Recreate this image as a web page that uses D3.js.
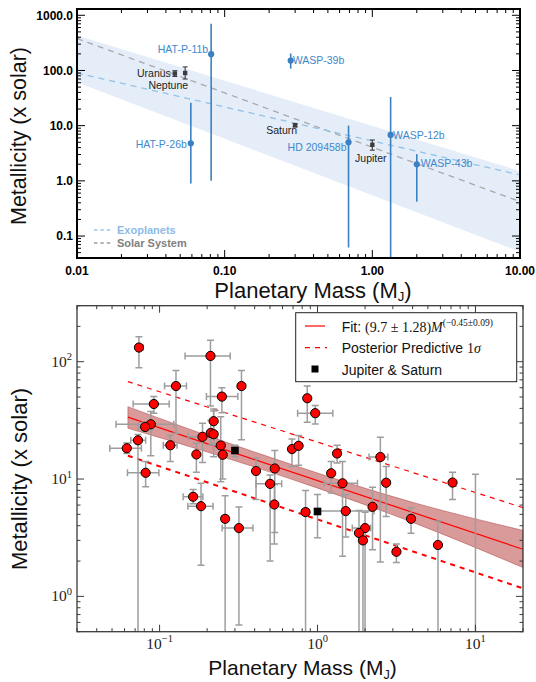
<!DOCTYPE html>
<html>
<head>
<meta charset="utf-8">
<script src="https://cdn.jsdelivr.net/npm/d3@7"></script>
<style>
  body { margin: 0; background: #fff; }
  svg { display: block; }
</style>
</head>
<body>
<svg id="fig" width="536" height="682"></svg>
<script>
// ================= Upper panel: transmission-spectrum metallicities =================
const exoNames  = ["HAT-P-11b", "HAT-P-26b", "WASP-39b", "HD 209458b", "WASP-12b", "WASP-43b"];
const exoMass   = [0.081, 0.059, 0.28, 0.69, 1.33, 2.0];
const exoZ      = [197, 4.8, 151, 5.0, 6.8, 2.0];
const exoZLow   = [1.0, 0.9, 108, 0.062, 0.01, 0.42];
const exoZHigh  = [700, 26, 203, 10, 33, 3.05];

const solarNames = ["Uranus", "Neptune", "Saturn", "Jupiter"];
const solarMass  = [0.046, 0.054, 0.30, 1.0];
const solarZ     = [88, 90, 10.2, 4.5];
const solarZLow  = [78, 70, 9.5, 3.6];
const solarZHigh = [99, 116, 10.9, 5.5];

const trendMass   = [0.01, 10];
const exoTrendZ   = [90, 1.28];
const solarTrendZ = [380, 0.42];
const spreadLow   = [61, 0.052];
const spreadHigh  = [430, 1.5];

const topXTickVals   = [0.01, 0.1, 1, 10];
const topXTickLabels = ["0.01", "0.10", "1.00", "10.00"];
const topYTickVals   = [0.1, 1, 10, 100, 1000];
const topYTickLabels = ["0.1", "1.0", "10.0", "100.0", "1000.0"];
const topLegendLabels = ["Exoplanets", "Solar System"];

// ================= Lower panel: population fit =================
const planetMass     = [0.074, 0.21, 0.127, 0.248, 0.33, 0.092, 0.22, 0.088, 0.081, 0.073,
                        0.062, 0.117, 0.187, 0.211, 0.22, 0.244, 0.251, 0.171, 0.408, 0.536,
                        0.501, 0.533, 0.0816, 0.163, 0.183, 0.26, 0.318, 0.861, 0.967, 0.689,
                        0.759, 1.33, 1.22, 2.5, 2.72, 1.44, 7.16, 0.84, 1.51, 2.23,
                        2.0, 1.83, 1.94, 3.91, 3.16, 5.79, 10.0];
const planetZ        = [132, 112, 62, 50.4, 62, 43.6, 31.1, 29.3, 27.8, 21.4,
                        18.3, 19.4, 22.9, 24.7, 24.1, 19.3, 16.1, 16.2, 11.7, 12.3,
                        9.1, 6.07, 11.3, 7.06, 5.87, 4.58, 3.82, 48.8, 36.4, 18.0,
                        19.2, 16.5, 11.2, 15.4, 9.3, 9.2, 9.33, 5.23, 5.33, 5.8,
                        3.82, 3.47, 3.0, 4.58, 2.40, 2.74, 0.35];
const planetZLow     = [89, 42, 24.5, 36.8, 21.6, 36.4, 20, 15.8, 25.5, 0.1,
                        16.5, 14.1, 13.8, 19.5, 15.5, 9.5, 10, 11.4, 6.7, 3.5,
                        2.0, 2.8, 8.6, 6.15, 1.84, 0.1, 0.57, 30.5, 29.5, 12.8,
                        13.1, 13.7, 7.6, 1.96, 4.8, 2.2, 6.7, 0.1, 3.2, 2.5,
                        0.1, 0.1, 0.1, 3.45, 1.94, 0.1, 0.1];
const planetZHigh    = [163, 152, 84, 60, 84, 50.4, 39.5, 37.6, 30.5, 24,
                        20.3, 23.5, 29.9, 31.5, 38, 34, 19.5, 20.2, 15.1, 17.5,
                        10.8, 9.0, 14.1, 8.15, 9.2, 7.2, 5.77, 62, 42.3, 21.9,
                        23.5, 19.4, 14.1, 22.7, 12.8, 14.1, 11.4, 8.0, 7.4, 8.5,
                        5.2, 5.4, 3.6, 5.7, 2.8, 4.38, 11.0];
const planetMassLow  = [0.0714, 0.145, 0.1075, 0.198, null, 0.068, null, 0.053, 0.0734, 0.0657,
                        0.0484, 0.1055, 0.152, null, null, null, null, null, null, null,
                        0.408, null, 0.0626, 0.141, 0.151, 0.248, 0.249, null, 0.748, null,
                        null, null, null, 2.12, null, 1.10, null, 0.80, 1.0, null,
                        1.66, null, null, null, null, null, null];
const planetMassHigh = [0.0786, 0.28, 0.148, 0.313, null, 0.115, null, 0.123, 0.09, 0.0816,
                        0.0767, 0.129, 0.232, null, null, null, null, null, null, null,
                        0.593, null, 0.099, 0.188, 0.218, 0.272, 0.39, null, 1.25, null,
                        null, null, null, 2.79, null, 1.79, null, 0.88, 2.28, null,
                        2.17, null, null, null, null, null, null];

const giantNames = ["Jupiter", "Saturn"];
const giantMass  = [1.0, 0.30];
const giantZ     = [5.29, 17.5];
const giantZLow  = [3.16, 15.5];
const giantZHigh = [7.4, 19.4];

// power-law fit Z = A * M^k
const fitAmp = 9.7, fitAmpErr = 1.28, fitExp = -0.45, fitExpErr = 0.09;
const fitRange = [0.063, 20];
// credible band of the fit
const bandMass = [0.063, 0.2, 0.76, 3.9, 20];
const bandLow  = [27.1, 17.0, 9.5, 4.33, 1.76];
const bandHigh = [41.4, 23.5, 12.7, 6.39, 3.65];
// posterior predictive 1 sigma envelope
const ppMass  = [0.063, 20];
const ppUpper = [67.6, 5.7];
const ppLower = [15.8, 1.17];

const botXTickVals = [0.1, 1, 10];
const botXTickExp  = ["\u22121", "0", "1"];
const botYTickVals = [1, 10, 100];
const botYTickExp  = ["0", "1", "2"];

// ---------------------------------------------------------------------------------
const svg = d3.select("#fig");
const SANS = "'Liberation Sans', Arial, Helvetica, sans-serif";
const SERIF = "'Liberation Serif', 'Times New Roman', serif";

function logTickList(lo, hi) {
  const out = [];
  const e0 = Math.floor(Math.log10(lo)) - 1, e1 = Math.ceil(Math.log10(hi)) + 1;
  for (let e = e0; e <= e1; e++) {
    for (let k = 1; k <= 9; k++) {
      const v = +(k * Math.pow(10, e)).toPrecision(6);
      if (v >= lo * 0.9999 && v <= hi * 1.0001) out.push({ v, major: k === 1 });
    }
  }
  return out;
}

function drawFrameTicks(g, x, y, box, opt) {
  const xt = logTickList(x.domain()[0], x.domain()[1]);
  const yt = logTickList(y.domain()[0], y.domain()[1]);
  const tg = g.append("g").attr("stroke", opt.color).attr("stroke-width", opt.tickWidth);
  xt.forEach(t => {
    const px = x(t.v), L = t.major ? opt.major : opt.minor;
    tg.append("line").attr("x1", px).attr("x2", px).attr("y1", box.bottom).attr("y2", box.bottom - L);
    tg.append("line").attr("x1", px).attr("x2", px).attr("y1", box.top).attr("y2", box.top + L);
  });
  yt.forEach(t => {
    const py = y(t.v), L = t.major ? opt.major : opt.minor;
    tg.append("line").attr("x1", box.left).attr("x2", box.left + L).attr("y1", py).attr("y2", py);
    tg.append("line").attr("x1", box.right).attr("x2", box.right - L).attr("y1", py).attr("y2", py);
  });
  g.append("rect")
    .attr("x", box.left).attr("y", box.top)
    .attr("width", box.right - box.left).attr("height", box.bottom - box.top)
    .attr("fill", "none").attr("stroke", opt.color).attr("stroke-width", opt.frameWidth);
}

// ================================= upper panel =================================
const tb = { left: 77, right: 520, top: 9, bottom: 258 };
const xT = d3.scaleLog().domain([0.01, 10]).range([tb.left, tb.right]);
const yT = d3.scaleLog().domain([0.04, 1300]).range([tb.bottom, tb.top]);

const gT = svg.append("g");
gT.append("clipPath").attr("id", "clipTop").append("rect")
  .attr("x", tb.left).attr("y", tb.top).attr("width", tb.right - tb.left).attr("height", tb.bottom - tb.top);
const pT = gT.append("g").attr("clip-path", "url(#clipTop)");

const exoBlue = "#3a80c3";
const spread = trendMass.map((m, i) => ({ m, lo: spreadLow[i], hi: spreadHigh[i] }));
pT.append("path")
  .attr("d", d3.area().x(d => xT(d.m)).y0(d => yT(d.lo)).y1(d => yT(d.hi))(spread))
  .attr("fill", "#e4edf8");

const trendLine = d3.line().x(d => xT(d.m)).y(d => yT(d.z));
pT.append("path")
  .attr("d", trendLine(trendMass.map((m, i) => ({ m, z: solarTrendZ[i] }))))
  .attr("fill", "none").attr("stroke", "#a9a9a9").attr("stroke-width", 1.3).attr("stroke-dasharray", "6,5");
pT.append("path")
  .attr("d", trendLine(trendMass.map((m, i) => ({ m, z: exoTrendZ[i] }))))
  .attr("fill", "none").attr("stroke", "#93c2e8").attr("stroke-width", 1.3).attr("stroke-dasharray", "6,5");

// solar system planets
const solarCol = "#3c3c3c";
solarNames.forEach((n, i) => {
  const px = xT(solarMass[i]);
  pT.append("line").attr("x1", px).attr("x2", px)
    .attr("y1", yT(solarZLow[i])).attr("y2", yT(solarZHigh[i]))
    .attr("stroke", solarCol).attr("stroke-width", 1.1);
  [solarZLow[i], solarZHigh[i]].forEach(z => {
    pT.append("line").attr("x1", px - 2.5).attr("x2", px + 2.5).attr("y1", yT(z)).attr("y2", yT(z))
      .attr("stroke", solarCol).attr("stroke-width", 1.1);
  });
  pT.append("rect").attr("x", px - 2.2).attr("y", yT(solarZ[i]) - 2.2).attr("width", 4.4).attr("height", 4.4)
    .attr("fill", solarCol);
});

// exoplanets
exoNames.forEach((n, i) => {
  const px = xT(exoMass[i]);
  pT.append("line").attr("x1", px).attr("x2", px)
    .attr("y1", yT(exoZLow[i])).attr("y2", yT(exoZHigh[i]))
    .attr("stroke", exoBlue).attr("stroke-width", 1.6);
  pT.append("circle").attr("cx", px).attr("cy", yT(exoZ[i])).attr("r", 3.1).attr("fill", exoBlue);
});

// point labels
const exoLabelPos = {
  "HAT-P-11b":  { anchor: "end",   dx: -3,  dy: -5 },
  "HAT-P-26b":  { anchor: "end",   dx: -4,  dy: 1 },
  "WASP-39b":   { anchor: "start", dx: 2,   dy: 0 },
  "HD 209458b": { anchor: "end",   dx: -2,  dy: 4.5 },
  "WASP-12b":   { anchor: "start", dx: 2.5, dy: 0 },
  "WASP-43b":   { anchor: "start", dx: 4,   dy: -1 }
};
const solarLabelPos = {
  "Uranus":  { anchor: "end",    dx: -4,   dy: 0 },
  "Neptune": { anchor: "end",    dx: 3,    dy: 12 },
  "Saturn":  { anchor: "end",    dx: 2,    dy: 5.5 },
  "Jupiter": { anchor: "middle", dx: -1.5, dy: 13 }
};
const labelFont = 10.5;
exoNames.forEach((n, i) => {
  const p = exoLabelPos[n];
  gT.append("text").text(n)
    .attr("x", xT(exoMass[i]) + p.dx).attr("y", yT(exoZ[i]) + p.dy + labelFont * 0.36)
    .attr("text-anchor", p.anchor).attr("font-family", SANS).attr("font-size", labelFont)
    .attr("fill", "#3f88cc");
});
solarNames.forEach((n, i) => {
  const p = solarLabelPos[n];
  gT.append("text").text(n)
    .attr("x", xT(solarMass[i]) + p.dx).attr("y", yT(solarZ[i]) + p.dy + labelFont * 0.36)
    .attr("text-anchor", p.anchor).attr("font-family", SANS).attr("font-size", labelFont)
    .attr("fill", "#1e1e1e");
});

// legend (lower left)
const legColors = [["#9cc6ea", "#8dbbe6"], ["#9a9a9a", "#808080"]];
topLegendLabels.forEach((lab, i) => {
  const y = 230 + i * 13;
  gT.append("line").attr("x1", 94).attr("x2", 111).attr("y1", y).attr("y2", y)
    .attr("stroke", legColors[i][0]).attr("stroke-width", 1.5).attr("stroke-dasharray", "3.4,3");
  gT.append("text").text(lab).attr("x", 117).attr("y", y + 4)
    .attr("font-family", SANS).attr("font-size", 11).attr("font-weight", "bold")
    .attr("fill", legColors[i][1]);
});

drawFrameTicks(gT, xT, yT, tb, { color: "#000", tickWidth: 1, major: 8, minor: 4, frameWidth: 2 });

// tick labels
topXTickVals.forEach((v, i) => {
  gT.append("text").text(topXTickLabels[i]).attr("x", xT(v)).attr("y", 274.5)
    .attr("text-anchor", "middle").attr("font-family", SANS).attr("font-size", 12)
    .attr("font-weight", "bold").attr("fill", "#000");
});
topYTickVals.forEach((v, i) => {
  gT.append("text").text(topYTickLabels[i]).attr("x", 73).attr("y", yT(v) + 4.3)
    .attr("text-anchor", "end").attr("font-family", SANS).attr("font-size", 12)
    .attr("font-weight", "bold").attr("fill", "#000");
});

// axis titles
function massTitle(g, cx, baseline, size) {
  const t = g.append("text").attr("x", cx).attr("y", baseline).attr("text-anchor", "middle")
    .attr("font-family", SANS).attr("font-size", size).attr("fill", "#111");
  t.append("tspan").text("Planetary Mass (M");
  t.append("tspan").text("J").attr("font-size", size * 0.6).attr("dy", size * 0.18);
  t.append("tspan").text(")").attr("dy", -size * 0.18);
}
function metTitle(g, x, cy, size) {
  g.append("text").text("Metallicity (x solar)")
    .attr("transform", `translate(${x},${cy}) rotate(-90)`)
    .attr("text-anchor", "middle").attr("font-family", SANS).attr("font-size", size).attr("fill", "#111");
}
massTitle(gT, 313, 297.5, 22);
metTitle(gT, 26, 136, 21.5);

// ================================= lower panel =================================
const bb = { left: 77, right: 523, top: 305.7, bottom: 631.7 };
const xB = d3.scaleLog().domain([0.03, 20]).range([bb.left, bb.right]);
const yB = d3.scaleLog().domain([0.5, 300]).range([bb.bottom, bb.top]);

const gB = svg.append("g");
gB.append("clipPath").attr("id", "clipBot").append("rect")
  .attr("x", bb.left).attr("y", bb.top).attr("width", bb.right - bb.left).attr("height", bb.bottom - bb.top);
const pB = gB.append("g").attr("clip-path", "url(#clipBot)");

// credible band
const band = bandMass.map((m, i) => ({ m, lo: bandLow[i], hi: bandHigh[i] }));
pB.append("path")
  .attr("d", d3.area().x(d => xB(d.m)).y0(d => yB(d.lo)).y1(d => yB(d.hi)).curve(d3.curveMonotoneX)(band))
  .attr("fill", "rgba(170,30,30,0.45)").attr("stroke", "rgba(150,20,20,0.45)").attr("stroke-width", 0.8);

// best-fit line
const fitPts = fitRange.map(m => ({ m, z: fitAmp * Math.pow(m, fitExp) }));
pB.append("path")
  .attr("d", d3.line().x(d => xB(d.m)).y(d => yB(d.z))(fitPts))
  .attr("fill", "none").attr("stroke", "#ff0000").attr("stroke-width", 1.2);

// posterior predictive envelope
const ppLine = d3.line().x(d => xB(d.m)).y(d => yB(d.z));
pB.append("path")
  .attr("d", ppLine(ppMass.map((m, i) => ({ m, z: ppUpper[i] }))))
  .attr("fill", "none").attr("stroke", "#ff0000").attr("stroke-width", 1.2).attr("stroke-dasharray", "5,5");
pB.append("path")
  .attr("d", ppLine(ppMass.map((m, i) => ({ m, z: ppLower[i] }))))
  .attr("fill", "none").attr("stroke", "#ff0000").attr("stroke-width", 2).attr("stroke-dasharray", "5,5");

// error bars
const errCol = "#9d9d9d", capHalf = 3.5;
function errorBars(g, mass, z, zlo, zhi, mlo, mhi, col) {
  mass.forEach((m, i) => {
    const px = xB(m), py = yB(z[i]);
    g.append("line").attr("x1", px).attr("x2", px).attr("y1", yB(zlo[i])).attr("y2", yB(zhi[i]))
      .attr("stroke", col).attr("stroke-width", 1.5);
    [zlo[i], zhi[i]].forEach(v => {
      g.append("line").attr("x1", px - capHalf).attr("x2", px + capHalf).attr("y1", yB(v)).attr("y2", yB(v))
        .attr("stroke", col).attr("stroke-width", 1.5);
    });
    if (mlo && mlo[i] != null) {
      g.append("line").attr("x1", xB(mlo[i])).attr("x2", xB(mhi[i])).attr("y1", py).attr("y2", py)
        .attr("stroke", col).attr("stroke-width", 1.5);
      [mlo[i], mhi[i]].forEach(v => {
        g.append("line").attr("x1", xB(v)).attr("x2", xB(v)).attr("y1", py - capHalf).attr("y2", py + capHalf)
          .attr("stroke", col).attr("stroke-width", 1.5);
      });
    }
  });
}
errorBars(pB, planetMass, planetZ, planetZLow, planetZHigh, planetMassLow, planetMassHigh, errCol);
errorBars(pB, giantMass, giantZ, giantZLow, giantZHigh, null, null, errCol);

pB.selectAll("circle.planet").data(planetMass).enter().append("circle")
  .attr("class", "planet")
  .attr("cx", d => xB(d)).attr("cy", (d, i) => yB(planetZ[i])).attr("r", 4.6)
  .attr("fill", "#ff0000").attr("stroke", "#000").attr("stroke-width", 1);

pB.selectAll("rect.giant").data(giantMass).enter().append("rect")
  .attr("class", "giant")
  .attr("x", d => xB(d) - 3.8).attr("y", (d, i) => yB(giantZ[i]) - 3.8)
  .attr("width", 7.6).attr("height", 7.6).attr("fill", "#000");

drawFrameTicks(gB, xB, yB, bb, { color: "#3a3a3a", tickWidth: 1, major: 7, minor: 3.5, frameWidth: 1.3 });

// tick labels (10^n)
function powLabel(g, x, y, exp, anchor) {
  const t = g.append("text").attr("x", x).attr("y", y).attr("text-anchor", anchor)
    .attr("font-family", SERIF).attr("font-size", 15.5).attr("fill", "#222");
  t.append("tspan").text("10");
  t.append("tspan").text(exp).attr("font-size", 10.5).attr("dy", -6.5);
}
botXTickVals.forEach((v, i) => powLabel(gB, xB(v), 648.5, botXTickExp[i], "middle"));
botYTickVals.forEach((v, i) => powLabel(gB, 72, yB(v) + 5, botYTickExp[i], "end"));

massTitle(gB, 302.5, 675, 21);
metTitle(gB, 27, 479, 22);

// legend box
const lg = gB.append("g");
lg.append("rect").attr("x", 295.7).attr("y", 312.7).attr("width", 221).attr("height", 69)
  .attr("fill", "#fff").attr("stroke", "#222").attr("stroke-width", 1);
lg.append("line").attr("x1", 305).attr("x2", 325).attr("y1", 326).attr("y2", 326)
  .attr("stroke", "#ff0000").attr("stroke-width", 1.2);
lg.append("line").attr("x1", 305).attr("x2", 327).attr("y1", 347.7).attr("y2", 347.7)
  .attr("stroke", "#ff0000").attr("stroke-width", 1.2).attr("stroke-dasharray", "5,5");
lg.append("rect").attr("x", 311.5).attr("y", 365.5).attr("width", 7).attr("height", 7).attr("fill", "#000");

const fitText = lg.append("text").attr("x", 341.7).attr("y", 331.5).attr("font-size", 14).attr("fill", "#111");
fitText.append("tspan").text("Fit: ").attr("font-family", SANS);
fitText.append("tspan").text(`(${fitAmp} \u00b1 ${fitAmpErr})`).attr("font-family", SERIF);
fitText.append("tspan").text("M").attr("font-family", SERIF).attr("font-style", "italic");
fitText.append("tspan")
  .text(`(\u2212${Math.abs(fitExp).toFixed(2)}\u00b1${fitExpErr.toFixed(2)})`)
  .attr("font-family", SERIF).attr("font-size", 9.5).attr("dy", -6);

const ppText = lg.append("text").attr("x", 341.7).attr("y", 353).attr("font-size", 14).attr("fill", "#111");
ppText.append("tspan").text("Posterior Predictive ").attr("font-family", SANS);
ppText.append("tspan").text("1").attr("font-family", SERIF);
ppText.append("tspan").text("\u03c3").attr("font-family", SERIF).attr("font-style", "italic");

lg.append("text").text(giantNames.join(" & ")).attr("x", 341.7).attr("y", 374.5)
  .attr("font-family", SANS).attr("font-size", 14).attr("fill", "#111");
</script>
</body>
</html>
